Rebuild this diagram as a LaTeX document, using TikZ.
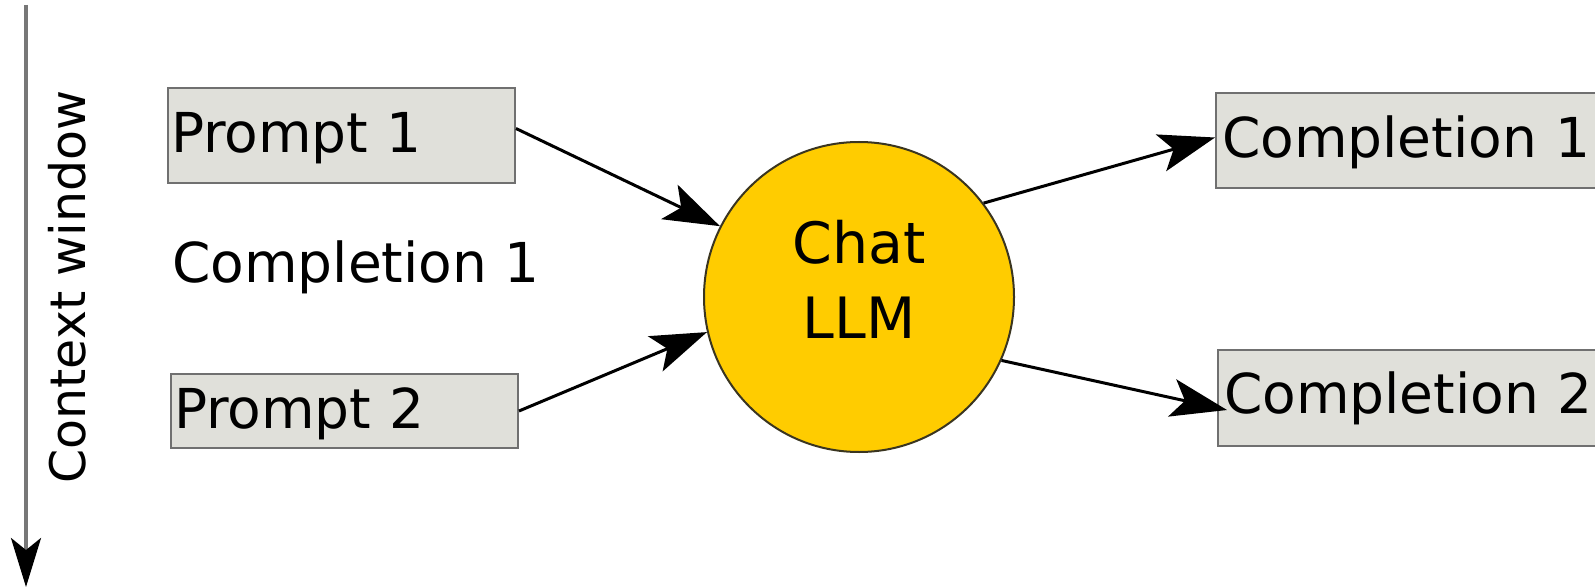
\documentclass[tikz,border=0pt]{standalone}
\usepackage{fontspec}
\setmainfont{DejaVu Sans}
\usetikzlibrary{arrows.meta}

\definecolor{boxfill}{HTML}{E0E0DA}
\definecolor{boxline}{HTML}{707070}
\definecolor{llmfill}{HTML}{FFCC00}
\definecolor{llmline}{HTML}{3A3520}
\definecolor{axisgray}{HTML}{777777}

\tikzset{
  msgbox/.style={draw=boxline, fill=boxfill, line width=2pt, rectangle,
    inner xsep=3pt, inner ysep=0pt, align=left,
    font=\fontsize{55}{66}\selectfont, text height=40pt, text depth=6pt},
  freetext/.style={inner sep=0pt, font=\fontsize{55}{66}\selectfont,
    text height=40pt, text depth=0pt},
  llmnode/.style={circle, draw=llmline, fill=llmfill, line width=2pt,
    minimum size=310pt, inner sep=0pt},
  flow/.style={line width=3pt, black,
    -{Stealth[length=56pt, width=38pt, inset=13pt]}},
  timeaxis/.style={line width=3.5pt, axisgray,
    -{Stealth[length=49pt, width=30pt, inset=12pt, black]}}
}

\begin{document}
\begin{tikzpicture}[x=1pt, y=-1pt]
  \clip (0,0) rectangle (1595,588);
  \fill[white] (0,0) rectangle (1595,588);

  % time axis on the left
  \coordinate (axtop) at (26,5);
  \coordinate (axbot) at (26,587);
  \draw[timeaxis] (axtop) -- (axbot);
  \node[freetext, rotate=90, font=\fontsize{49}{60}\selectfont,
        text height=35.7pt] (ctx) at (68,287) {Context window};

  % conversation on the left
  \node[msgbox, minimum width=347pt, minimum height=95pt, text width=341pt]
    (p1) at (341.5,135.5) {Prompt 1};
  \node[freetext, anchor=west] (c1text) at (172,262.5) {Completion 1};
  \node[msgbox, minimum width=347pt, minimum height=74pt, text width=341pt]
    (p2) at (344.5,411) {Prompt 2};

  % the model
  \node[llmnode] (llm) at (859,297) {};
  \node[inner sep=0pt, align=center, font=\fontsize{57}{75}\selectfont]
    (llmtext) at ([yshift=18pt]llm.center) {Chat\\LLM};

  % outputs on the right
  \node[msgbox, anchor=west, minimum width=440pt, minimum height=95pt,
        text width=434pt, inner xsep=6pt] (c1) at (1215,140.5) {Completion 1};
  \node[msgbox, anchor=west, minimum width=440pt, minimum height=96pt,
        text width=434pt, inner xsep=6pt, text depth=9pt] (c2) at (1217,398) {Completion 2};

  % connectors
  \draw[flow] ([yshift=7pt]p1.east) -- (llm.153);
  \draw[flow] (p2.east) -- (llm.193);
  \draw[flow] (llm.37) -- ([yshift=3pt]c1.west);
  \draw[flow] (llm.-24) -- ([xshift=10pt,yshift=-12pt]c2.west);
\end{tikzpicture}
\end{document}
